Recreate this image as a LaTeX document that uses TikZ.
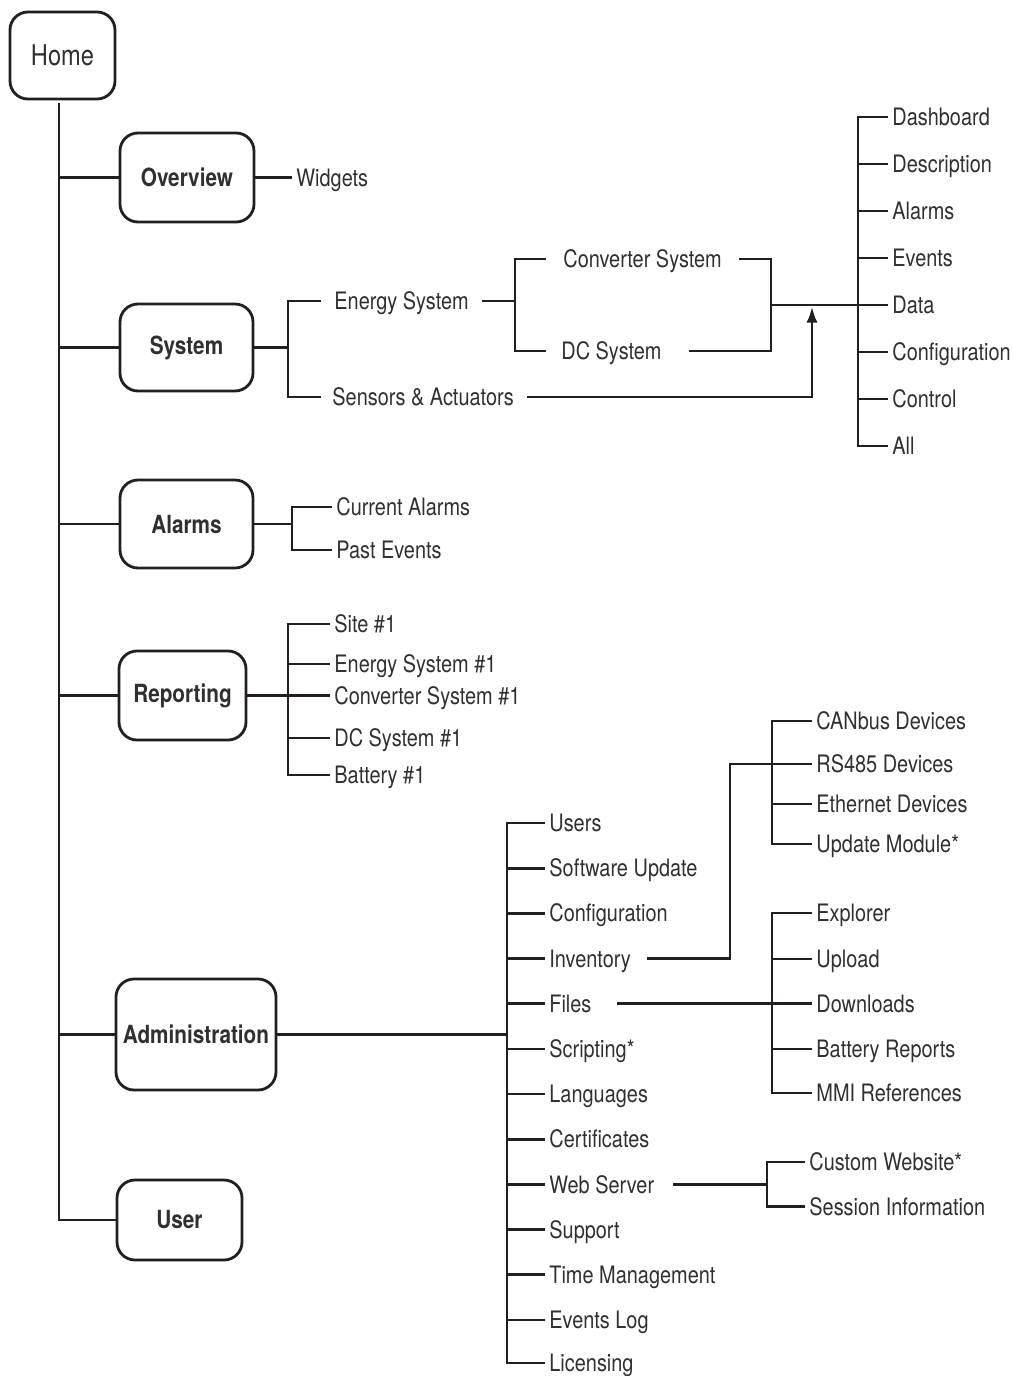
\documentclass[tikz,border=0pt]{standalone}
\usepackage{fontspec}
\setmainfont[FakeStretch=0.83]{TeX Gyre Heros}
\usetikzlibrary{arrows.meta}
\definecolor{ink}{HTML}{231F20}
\definecolor{txt}{HTML}{303030}
\begin{document}
\begin{tikzpicture}[x=1pt,y=-1pt,line width=2.8pt,draw=ink,
  box/.style={draw=ink,line width=2.8pt,rounded corners=18pt,text=txt,
    font=\fontsize{25}{28}\selectfont\bfseries,inner sep=0pt},
  lbl/.style={anchor=west,text=txt,font=\fontsize{24}{26}\selectfont,
    inner xsep=3pt,inner ysep=0pt,text height=17.2pt,text depth=0pt},
  arr/.style={-{Latex[length=16pt,width=11pt]}}]
\fill[white] (0,0) rectangle (1012,1376);
\useasboundingbox (0,0) rectangle (1012,1376);

% boxes
\node[box,font=\fontsize{28.5}{30}\selectfont,minimum width=105pt,minimum height=87pt] (home) at (62.5,55.5) {Home};
\node[box,minimum width=134pt,minimum height=89pt] (ov) at (187,177.5) {Overview};
\node[box,minimum width=133pt,minimum height=87pt] (sys) at (186.5,347.5) {System};
\node[box,minimum width=133pt,minimum height=88pt] (alm) at (186.5,524) {Alarms};
\node[box,minimum width=127pt,minimum height=89pt] (rep) at (182.5,695.5) {Reporting};
\node[box,minimum width=160pt,minimum height=111pt] (adm) at (196,1034.5) {Administration};
\node[box,minimum width=125pt,minimum height=80pt] (usr) at (179.5,1220) {User};

% trunk
\coordinate (tr) at (59,103);
\draw (tr) |- (usr.west);
\foreach \b in {ov,sys,alm,rep,adm} \draw (tr |- \b.west) -- (\b.west);

% overview
\node[lbl] (wid) at (292,177.5) {Widgets};
\draw (ov.east) -- (wid.west);

% system
\coordinate (sb) at (288,347.5);
\draw (sys.east) -- (sb);
\node[lbl,inner xsep=12pt] (es) at (321,301) {Energy System};
\node[lbl,inner xsep=10pt] (sa) at (321,397) {Sensors \& Actuators};
\draw (sb) |- (es.west);
\draw (sb) |- (sa.west);
\coordinate (eb) at (515,301);
\draw (es.east) -- (eb);
\node[lbl,inner xsep=16pt] (cs) at (546,259) {Converter System};
\node[lbl,inner xsep=14pt] (dc) at (546,351) {DC System};
\draw (eb) |- (cs.west);
\draw (eb) |- (dc.west);
\coordinate (m) at (771,305);
\draw (cs.east) -| (m);
\draw ([xshift=12pt]dc.east) -| (m);
\coordinate (ar) at (812,306.5);
\draw[arr] ([xshift=2pt]sa.east) -| (ar);

% right column
\coordinate (rb) at (858,305);
\node[lbl] (dash) at (888,117) {Dashboard};
\node[lbl] (desc) at (888,164) {Description};
\node[lbl] (ralm) at (888,211) {Alarms};
\node[lbl] (evt) at (888,258) {Events};
\node[lbl] (data) at (888,305) {Data};
\node[lbl] (conf) at (888,352) {Configuration};
\node[lbl] (ctrl) at (888,399) {Control};
\node[lbl] (all) at (888,446) {All};
\draw (m) -- (data.west);
\foreach \n in {dash,desc,ralm,evt,conf,ctrl,all} \draw (rb) |- (\n.west);

% alarms
\coordinate (ab) at (292,524);
\draw (alm.east) -- (ab);
\node[lbl] (ca) at (332,507) {Current Alarms};
\node[lbl] (pe) at (332,550) {Past Events};
\draw (ab) |- (ca.west);
\draw (ab) |- (pe.west);

% reporting
\coordinate (rpb) at (288,695.5);
\draw (rep.east) -- (rpb);
\node[lbl] (s1) at (330,624) {Site \#1};
\node[lbl] (e1) at (330,664) {Energy System \#1};
\node[lbl] (c1) at (330,695.5) {Converter System \#1};
\node[lbl] (d1) at (330,738) {DC System \#1};
\node[lbl] (b1) at (330,775) {Battery \#1};
\foreach \n in {s1,e1,c1,d1,b1} \draw (rpb) |- (\n.west);

% administration
\coordinate (adb) at (507,1034.5);
\draw (adm.east) -- (adb);
\node[lbl] (a1) at (545,823) {Users};
\node[lbl] (a2) at (545,868.2) {Software Update};
\node[lbl] (a3) at (545,913.3) {Configuration};
\node[lbl] (inv) at (545,958.5) {Inventory};
\node[lbl] (fil) at (545,1003.7) {Files};
\node[lbl] (a6) at (545,1048.9) {Scripting*};
\node[lbl] (a7) at (545,1094) {Languages};
\node[lbl] (a8) at (545,1139.2) {Certificates};
\node[lbl] (web) at (545,1184.4) {Web Server};
\node[lbl] (a10) at (545,1229.5) {Support};
\node[lbl] (a11) at (545,1274.7) {Time Management};
\node[lbl] (a12) at (545,1319.9) {Events Log};
\node[lbl] (a13) at (545,1363) {Licensing};
\foreach \n in {a1,a2,a3,inv,fil,a6,a7,a8,web,a10,a11,a12,a13} \draw (adb) |- (\n.west);

% inventory
\coordinate (ib) at (730,764);
\coordinate (cb) at (772,764);
\node[lbl] (can) at (812,721) {CANbus Devices};
\node[lbl] (rs) at (812,764) {RS485 Devices};
\node[lbl] (eth) at (812,804) {Ethernet Devices};
\node[lbl] (upd) at (812,844) {Update Module*};
\draw ([xshift=12pt]inv.east) -| (ib) -- (rs.west);
\foreach \n in {can,eth,upd} \draw (cb) |- (\n.west);

% files
\coordinate (fb) at (772,1003.7);
\node[lbl] (exp) at (812,913) {Explorer};
\node[lbl] (upl) at (812,959) {Upload};
\node[lbl] (dl) at (812,1003.7) {Downloads};
\node[lbl] (br) at (812,1049) {Battery Reports};
\node[lbl] (mmi) at (812,1093) {MMI References};
\draw ([xshift=21pt]fil.east) -- (dl.west);
\foreach \n in {exp,upl,br,mmi} \draw (fb) |- (\n.west);

% web server
\coordinate (wb) at (767,1184.4);
\node[lbl] (cw) at (805,1162) {Custom Website*};
\node[lbl] (si) at (805,1206.5) {Session Information};
\draw ([xshift=14pt]web.east) -- (wb);
\draw (wb) |- (cw.west);
\draw (wb) |- (si.west);
\end{tikzpicture}
\end{document}
